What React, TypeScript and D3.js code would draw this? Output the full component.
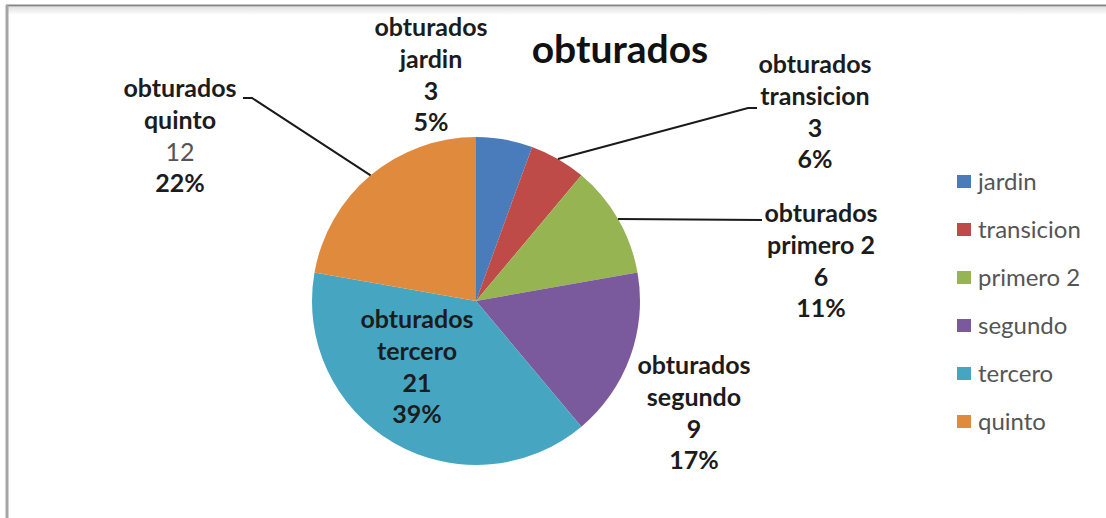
import { useMemo } from "react";
import * as d3 from "d3";

const categories = ["jardin", "transicion", "primero 2", "segundo", "tercero", "quinto"];
const values = [3, 3, 6, 9, 21, 12];
const percentLabels = ["5%", "6%", "11%", "17%", "39%", "22%"];
const colors = ["#4A7BBA", "#BE4B48", "#96B552", "#7A5A9C", "#46A6C2", "#E08A3E"];

const title = "obturados";
const seriesName = "obturados";

// label placement: center x, first baseline y, optional leader elbow / end
interface LabelPos {
  x: number;
  y: number;
  leader?: [number, number][];
}
const labelLayout: LabelPos[] = [
  { x: 431, y: 36 },
  { x: 815, y: 73, leader: [[748, 108], [757, 108]] },
  { x: 821, y: 222, leader: [[762, 220]] },
  { x: 694, y: 374 },
  { x: 417, y: 328 },
  { x: 180, y: 97, leader: [[252, 98], [243, 98]] },
];

const W = 1106;
const H = 518;
const cx = 476;
const cy = 301;
const radius = 164;
const lineGap = 32;
const font = "Lato, 'Open Sans', sans-serif";

export default function App() {
  const arcs = useMemo(
    () =>
      d3
        .pie<number>()
        .sort(null)
        .value((d) => d)(values),
    []
  );
  const arc = d3.arc<d3.PieArcDatum<number>>().innerRadius(0).outerRadius(radius);

  const legendY = d3
    .scalePoint<string>()
    .domain(categories)
    .range([182, 422]);

  return (
    <svg
      width={W}
      height={H}
      style={{ position: "absolute", left: 0, top: 0, background: "#fff" }}
      fontFamily={font}
    >
      {/* frame */}
      <defs>
        <linearGradient id="topShade" x1="0" y1="0" x2="0" y2="1">
          <stop offset="0" stopColor="#e2e2e2" />
          <stop offset="1" stopColor="#ffffff" />
        </linearGradient>
      </defs>
      <rect x={7} y={7} width={W} height={8} fill="url(#topShade)" />
      <line x1={6} x2={W} y1={5.5} y2={5.5} stroke="#858585" strokeWidth={2} />
      <line x1={7} x2={7} y1={5} y2={H} stroke="#a5a5a5" strokeWidth={3} />

      <text x={620} y={63} textAnchor="middle" fontSize={39} fontWeight={700} fill="#111">
        {title}
      </text>

      <g transform={`translate(${cx},${cy})`}>
        {arcs.map((a, i) => (
          <path key={i} d={arc(a) ?? ""} fill={colors[i]} />
        ))}
      </g>

      {/* leader lines */}
      {arcs.map((a, i) => {
        const pos = labelLayout[i];
        if (!pos.leader) return null;
        const mid = (a.startAngle + a.endAngle) / 2;
        const start: [number, number] = [cx + radius * Math.sin(mid), cy - radius * Math.cos(mid)];
        const pts = [start, ...pos.leader];
        return (
          <path
            key={`l${i}`}
            d={d3.line()(pts) ?? ""}
            fill="none"
            stroke="#1a1a1a"
            strokeWidth={2}
          />
        );
      })}

      {/* data labels */}
      {categories.map((c, i) => {
        const pos = labelLayout[i];
        const lines = [seriesName, c, String(values[i]), percentLabels[i]];
        return (
          <text key={`t${i}`} x={pos.x} y={pos.y} textAnchor="middle" fontSize={25} fill="#1c1c1c">
            {lines.map((s, j) => {
              const plain = c === "quinto" && j === 2;
              return (
                <tspan
                  key={j}
                  x={pos.x}
                  y={pos.y + j * lineGap - (j === 3 ? 1 : 0)}
                  fontWeight={plain ? 400 : 700}
                  fill={plain ? "#555" : "#1c1c1c"}
                >
                  {s}
                </tspan>
              );
            })}
          </text>
        );
      })}

      {/* legend */}
      {categories.map((c, i) => {
        const y = legendY(c) ?? 0;
        return (
          <g key={`g${i}`}>
            <rect x={957} y={y - 7} width={14} height={13} fill={colors[i]} />
            <text x={978} y={y + 8} fontSize={24} fill="#555">
              {c}
            </text>
          </g>
        );
      })}
    </svg>
  );
}
